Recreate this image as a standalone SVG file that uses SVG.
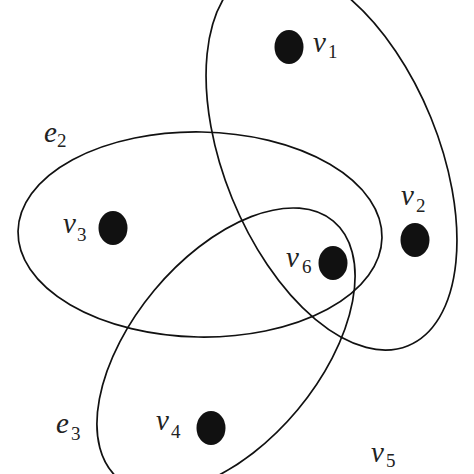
<svg xmlns="http://www.w3.org/2000/svg" width="474" height="474" viewBox="0 0 474 474">
<style>
.edge{fill:none;stroke:#111;stroke-width:1.7}
.dot{fill:#111}
.lbl{font-family:"Liberation Serif","DejaVu Serif",serif;font-style:italic;font-size:29px;fill:#222}
.sub{font-size:19px;font-style:normal}
</style>
<rect width="474" height="474" fill="#fff"/>
<g id="connectors">
<ellipse id="e1" class="edge" cx="331.5" cy="158" rx="107.3" ry="202.7" transform="rotate(-22.2 331.5 158)"/>
<ellipse id="e2" class="edge" cx="200" cy="234.5" rx="182" ry="102.5" transform="rotate(1 200 234.5)"/>
<ellipse id="e3" class="edge" cx="226" cy="350" rx="93.3" ry="167.7" transform="rotate(39.8 226 350)"/>
</g>
<g id="label-e2"><text class="lbl" x="44" y="142">e<tspan class="sub" x="57" y="147">2</tspan></text></g>
<g id="label-e3"><text class="lbl" x="56" y="433">e<tspan class="sub" x="71" y="440">3</tspan></text></g>
<g id="v1"><ellipse class="dot" cx="289" cy="47" rx="14.5" ry="17"/><text class="lbl" x="313" y="52">v<tspan class="sub" x="328" y="58">1</tspan></text></g>
<g id="v2"><ellipse class="dot" cx="415" cy="240" rx="14.5" ry="17"/><text class="lbl" x="401" y="205">v<tspan class="sub" x="416" y="212">2</tspan></text></g>
<g id="v3"><ellipse class="dot" cx="113" cy="228" rx="14.5" ry="17"/><text class="lbl" x="63" y="233">v<tspan class="sub" x="77" y="241">3</tspan></text></g>
<g id="v4"><ellipse class="dot" cx="211" cy="428" rx="14.5" ry="17"/><text class="lbl" x="156" y="430">v<tspan class="sub" x="171" y="438">4</tspan></text></g>
<g id="v5"><text class="lbl" x="371" y="462">v<tspan class="sub" x="386" y="467">5</tspan></text></g>
<g id="v6"><ellipse class="dot" cx="333" cy="263" rx="14.5" ry="17"/><text class="lbl" x="286" y="267">v<tspan class="sub" x="302" y="273">6</tspan></text></g>
</svg>
